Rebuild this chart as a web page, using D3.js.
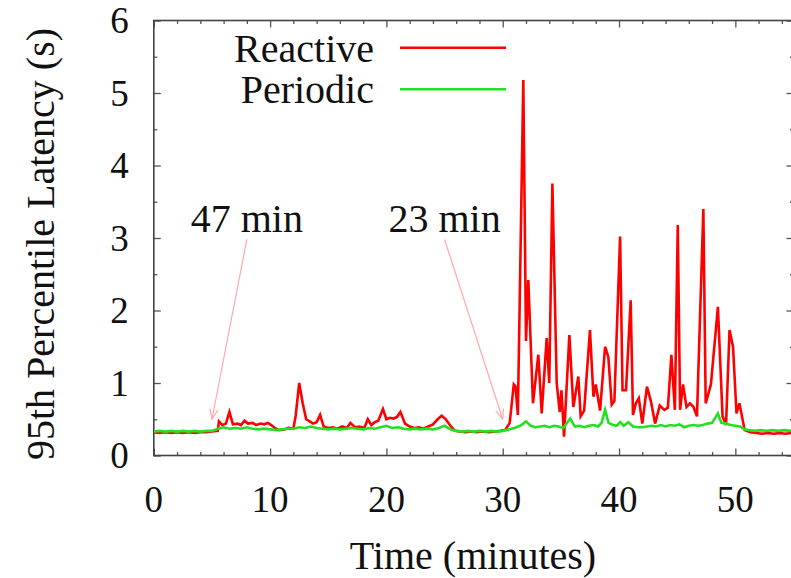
<!DOCTYPE html>
<html>
<head>
<meta charset="utf-8">
<script src="https://cdn.jsdelivr.net/npm/d3@7"></script>
<style>
  body { margin: 0; background: #fff; }
  svg { display: block; font-family: "Liberation Serif", "Times New Roman", serif; }
  text.lbl { font-family: "Liberation Serif", "Times New Roman", serif; fill: #111; }
</style>
</head>
<body>
<svg width="791" height="578"></svg>
<script>
// [minute, seconds]
const reactive = [
  [0,0.32],[0.5,0.31],[1,0.32],[1.5,0.31],[2,0.32],[2.5,0.31],[3,0.32],[3.5,0.31],[4,0.32],[4.5,0.32],
  [5,0.33],[5.5,0.34],[5.6,0.47],[5.9,0.42],[6.2,0.44],[6.5,0.6],[6.8,0.43],[7.2,0.44],[7.5,0.42],[7.8,0.48],
  [8.1,0.44],[8.5,0.45],[8.8,0.42],[9.2,0.44],[9.5,0.43],[9.8,0.45],[10.1,0.42],[10.4,0.38],[10.8,0.35],[11.2,0.36],
  [11.6,0.38],[12.0,0.37],[12.2,0.55],[12.5,1.0],[12.8,0.72],[13.1,0.5],[13.4,0.47],[13.7,0.44],[14.0,0.46],[14.3,0.56],
  [14.6,0.4],[15.0,0.38],[15.4,0.39],[15.8,0.37],[16.2,0.4],[16.6,0.38],[16.9,0.45],[17.3,0.39],[17.7,0.4],[18.1,0.38],
  [18.4,0.5],[18.7,0.42],[19.0,0.46],[19.3,0.48],[19.7,0.64],[20.0,0.5],[20.3,0.52],[20.6,0.51],[20.9,0.53],[21.2,0.6],
  [21.6,0.44],[22.0,0.4],[22.4,0.38],[22.8,0.39],[23.2,0.37],[23.6,0.4],[24.0,0.43],[24.4,0.5],[24.75,0.55],[25.1,0.5],
  [25.5,0.41],[25.9,0.34],[26.3,0.33],[26.8,0.32],[27.3,0.33],[27.8,0.32],[28.3,0.33],[28.8,0.32],[29.3,0.33],[29.8,0.34],
  [30.2,0.35],[30.6,0.45],[30.95,0.98],[31.1,0.95],[31.3,0.56],[31.77,5.18],[32.0,1.58],[32.2,2.42],[32.6,0.72],[33.06,1.39],
  [33.35,0.58],[33.78,1.62],[34.0,1.0],[34.27,3.75],[34.64,1.0],[34.9,0.6],[35.05,0.9],[35.27,0.26],[35.73,1.66],[36.07,0.67],
  [36.5,1.09],[36.7,0.54],[37.0,0.62],[37.5,1.73],[37.8,0.81],[38.0,0.98],[38.37,0.62],[38.8,1.5],[39.08,1.36],[39.37,0.7],
  [39.6,0.75],[40.09,3.02],[40.3,0.9],[40.6,0.9],[41.0,2.14],[41.2,0.56],[41.45,0.72],[41.7,0.79],[42.0,0.44],[42.4,0.95],
  [42.75,0.74],[43.1,0.44],[43.5,0.69],[43.9,0.63],[44.2,0.66],[44.5,1.39],[44.8,0.63],[45.05,3.18],[45.25,0.63],[45.5,0.98],
  [45.8,0.67],[46.1,0.72],[46.4,0.67],[46.7,0.54],[47.25,3.4],[47.45,0.72],[47.9,0.98],[48.5,2.05],[48.9,0.54],[49.2,0.42],
  [49.5,1.73],[49.8,1.5],[50.1,0.58],[50.35,0.72],[50.8,0.35],[51.3,0.32],[51.8,0.31],[52.3,0.3],[52.8,0.31],[53.3,0.3],
  [53.8,0.31],[54.3,0.3],[54.8,0.31],[55.5,0.31]
]

const periodic = [
  [0,0.33],[0.5,0.34],[1,0.33],[1.5,0.34],[2,0.33],[2.5,0.34],[3,0.33],[3.5,0.34],[4,0.33],[4.5,0.34],
  [5,0.34],[5.5,0.37],[6,0.39],[6.5,0.37],[7,0.38],[7.5,0.37],[8,0.39],[8.5,0.37],[9,0.36],[9.5,0.37],
  [10,0.36],[10.5,0.35],[11,0.36],[11.5,0.37],[12,0.37],[12.5,0.39],[13,0.38],[13.5,0.4],[14,0.38],[14.5,0.37],
  [15,0.36],[15.5,0.37],[16,0.36],[16.5,0.37],[17,0.38],[17.5,0.37],[18,0.36],[18.5,0.38],[19,0.37],[19.5,0.39],
  [20,0.41],[20.5,0.38],[21,0.39],[21.5,0.37],[22,0.36],[22.5,0.37],[23,0.36],[23.5,0.37],[24,0.36],[24.5,0.38],
  [25,0.41],[25.5,0.36],[26,0.34],[26.5,0.33],[27,0.34],[27.5,0.33],[28,0.34],[28.5,0.33],[29,0.34],[29.5,0.33],
  [30,0.34],[30.5,0.36],[31,0.38],[31.5,0.41],[32.0,0.47],[32.4,0.41],[32.8,0.39],[33.2,0.4],[33.6,0.41],[34.0,0.39],
  [34.4,0.41],[34.8,0.4],[35.2,0.38],[35.8,0.51],[36.2,0.4],[36.6,0.41],[37.0,0.39],[37.4,0.41],[37.8,0.42],[38.2,0.4],
  [38.5,0.45],[38.8,0.63],[39.1,0.45],[39.5,0.42],[39.8,0.41],[40.1,0.46],[40.4,0.41],[40.8,0.46],[41.2,0.4],[41.6,0.39],
  [42.0,0.39],[42.4,0.4],[42.8,0.41],[43.2,0.4],[43.6,0.42],[44.0,0.4],[44.4,0.42],[44.8,0.41],[45.2,0.43],[45.6,0.39],
  [46.0,0.41],[46.4,0.42],[46.8,0.41],[47.2,0.42],[47.6,0.44],[48.0,0.45],[48.5,0.58],[48.8,0.45],[49.2,0.44],[49.6,0.42],
  [50.0,0.41],[50.4,0.4],[50.8,0.36],[51.2,0.35],[51.7,0.34],[52.2,0.35],[52.7,0.34],[53.2,0.35],[53.7,0.34],[54.2,0.35],
  [54.7,0.34],[55.5,0.35]
]

const seriesNames = ['Reactive', 'Periodic']
const seriesColors = ['#ff0000', '#22e022']
const xTicks = [0, 10, 20, 30, 40, 50]
const yTicks = [0, 1, 2, 3, 4, 5, 6]
// annotation: label, label position, arrow tip  [minute, seconds]
const notes = [
  { text: '47 min', at: [8, 3.08], from: [8, 2.98], to: [5, 0.5] },
  { text: '23 min', at: [25, 3.08], from: [25, 2.98], to: [30, 0.5] }
]

const svg = d3.select('svg')

const x = d3.scaleLinear().domain([0, 55]).range([153.8, 793.5])
const y = d3.scaleLinear().domain([0, 6]).range([455.5, 20.5])

const plotLeft = x.range()[0], plotRight = x.range()[1]
const plotTop = y.range()[1], plotBottom = y.range()[0]

svg.append('defs').append('clipPath').attr('id', 'plot')
  .append('rect')
  .attr('x', plotLeft).attr('y', plotTop)
  .attr('width', plotRight - plotLeft).attr('height', plotBottom - plotTop)

// minor ticks every 2 min / 0.5 s, major every 10 / 1
const xMinor = d3.range(0, 56, 2).filter(d => d % 10 !== 0)
const yMinor = d3.range(0.5, 6, 1)

function styleAxis (g) {
  g.select('.domain').remove()
  g.selectAll('.tick line').attr('stroke', '#555').attr('stroke-width', 1.3)
}

// tick marks on all four sides, pointing inward (gnuplot style)
;[
  [d3.axisBottom, x, xTicks, 7, `translate(0,${plotBottom})`],
  [d3.axisBottom, x, xMinor, 3.5, `translate(0,${plotBottom})`],
  [d3.axisTop, x, xTicks, 7, `translate(0,${plotTop})`],
  [d3.axisTop, x, xMinor, 3.5, `translate(0,${plotTop})`],
  [d3.axisLeft, y, yTicks, 7, `translate(${plotLeft},0)`],
  [d3.axisLeft, y, yMinor, 3.5, `translate(${plotLeft},0)`],
  [d3.axisRight, y, yTicks, 7, `translate(${plotRight},0)`],
  [d3.axisRight, y, yMinor, 3.5, `translate(${plotRight},0)`]
].forEach(([axisFn, scale, values, len, tr]) => {
  svg.append('g').attr('transform', tr)
    .call(axisFn(scale).tickValues(values).tickSize(-len).tickFormat(''))
    .call(styleAxis)
})

// tick labels
svg.append('g').selectAll('text').data(xTicks).enter().append('text')
  .attr('class', 'lbl')
  .attr('x', d => x(d)).attr('y', plotBottom + 56)
  .attr('text-anchor', 'middle')
  .style('font-size', '37px')
  .text(d => d)

svg.append('g').selectAll('text').data(yTicks).enter().append('text')
  .attr('class', 'lbl')
  .attr('x', plotLeft - 25).attr('y', d => y(d))
  .attr('dy', '0.34em')
  .attr('text-anchor', 'end')
  .style('font-size', '37px')
  .text(d => d)

// frame
svg.append('rect')
  .attr('x', plotLeft).attr('y', plotTop)
  .attr('width', plotRight - plotLeft).attr('height', plotBottom - plotTop)
  .attr('fill', 'none').attr('stroke', '#444').attr('stroke-width', 1.6)

// series lines
const line = d3.line().x(d => x(d[0])).y(d => y(d[1]))
const lines = svg.append('g').attr('clip-path', 'url(#plot)')
;[reactive, periodic].forEach((data, i) => {
  lines.append('path')
    .datum(data)
    .attr('d', line)
    .attr('fill', 'none')
    .attr('stroke', seriesColors[i])
    .attr('stroke-width', 2.6)
    .attr('stroke-linejoin', 'miter')
})

// annotations
svg.append('defs').append('marker')
  .attr('id', 'head')
  .attr('viewBox', '0 0 12 12')
  .attr('refX', 11).attr('refY', 6)
  .attr('markerWidth', 12).attr('markerHeight', 12)
  .attr('markerUnits', 'userSpaceOnUse')
  .attr('orient', 'auto')
  .append('path')
  .attr('d', 'M1,2 L11,6 L1,10')
  .attr('fill', 'none')
  .attr('stroke', '#ffaaaa')
  .attr('stroke-width', 1.2)

const noteG = svg.append('g')
noteG.selectAll('line').data(notes).enter().append('line')
  .attr('x1', d => x(d.from[0])).attr('y1', d => y(d.from[1]))
  .attr('x2', d => x(d.to[0])).attr('y2', d => y(d.to[1]))
  .attr('stroke', '#ffaaaa').attr('stroke-width', 1.2)
  .attr('marker-end', 'url(#head)')
noteG.selectAll('text').data(notes).enter().append('text')
  .attr('class', 'lbl')
  .attr('x', d => x(d.at[0])).attr('y', d => y(d.at[1]))
  .attr('text-anchor', 'middle')
  .style('font-size', '40px')
  .text(d => d.text)

// legend
const legend = svg.append('g')
seriesNames.forEach((name, i) => {
  const ly = 47.7 + i * 41.5
  legend.append('text')
    .attr('class', 'lbl')
    .attr('x', 374).attr('y', ly + 14)
    .attr('text-anchor', 'end')
    .style('font-size', '40px')
    .text(name)
  legend.append('line')
    .attr('x1', 400).attr('x2', 506)
    .attr('y1', ly).attr('y2', ly)
    .attr('stroke', seriesColors[i])
    .attr('stroke-width', 2.6)
})

// axis titles
svg.append('text')
  .attr('class', 'lbl')
  .attr('x', 473).attr('y', 569)
  .attr('text-anchor', 'middle')
  .style('font-size', '40px')
  .text('Time (minutes)')

svg.append('text')
  .attr('class', 'lbl')
  .attr('transform', `translate(54,${(plotTop + plotBottom) / 2 + 6}) rotate(-90)`)
  .attr('text-anchor', 'middle')
  .style('font-size', '40px')
  .text('95th Percentile Latency (s)')
</script>
</body>
</html>
